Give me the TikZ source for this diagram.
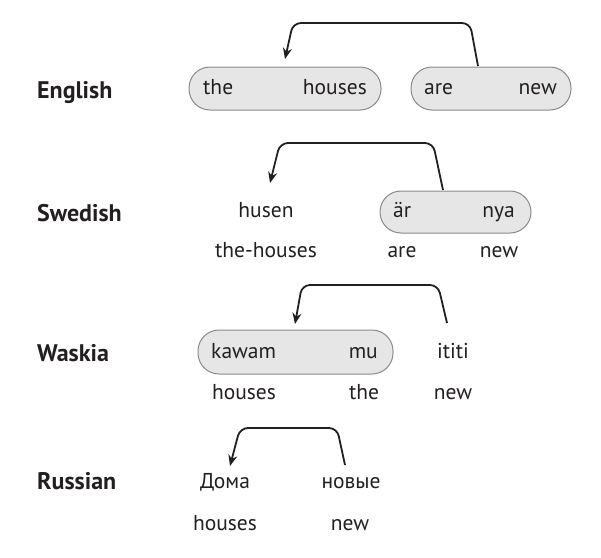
\documentclass[tikz,border=0pt]{standalone}
\usepackage{fontspec}
\setmainfont{PT Sans}
\usetikzlibrary{arrows.meta}
\definecolor{boxfill}{HTML}{E6E6E7}
\definecolor{boxline}{HTML}{8A8A8A}
\definecolor{ink}{HTML}{231F20}
\tikzset{
  wd/.style={inner sep=0pt, text=ink, anchor=base, font=\fontsize{21.5}{25}\selectfont},
  lang/.style={inner sep=0pt, text=ink, anchor=base west, font=\fontsize{24}{28}\selectfont\bfseries},
  pill/.style={draw=boxline, fill=boxfill, line width=1pt, rounded corners=21pt, inner sep=0pt},
  arr/.style={draw=ink, line width=1.8pt, rounded corners=8pt, -{Stealth[length=11pt,width=9pt]}},
}
\begin{document}
\begin{tikzpicture}[x=1pt,y=-1pt]
\useasboundingbox (0,0) rectangle (601,557);
% English
\node[lang] (len) at (37,98) {English};
\node[pill, minimum width=192pt, minimum height=43pt] (eb1) at (285,88.5) {};
\node[pill, minimum width=160pt, minimum height=43pt] (eb2) at (491,88.5) {};
\node[wd, anchor=base west] (ethe) at (203,94) {the};
\node[wd, anchor=base east] (ehouses) at (367,94) {houses};
\node[wd, anchor=base west] (eare) at (424,94) {are};
\node[wd, anchor=base east] (enew) at (557,94) {new};
\coordinate (es) at (478,66);
\coordinate (ee) at (285,59);
\draw[arr] (es) -- (470,23) -- (293,23) -- (ee);
% Swedish
\node[lang] (lsw) at (37,221) {Swedish};
\node[wd] (shusen) at (266,217) {husen};
\node[pill, minimum width=151pt, minimum height=42pt] (sb) at (455.5,212) {};
\node[wd, anchor=base west] (sar) at (393,217) {är};
\node[wd, anchor=base east] (snya) at (515,217) {nya};
\node[wd] (gth) at (266,257) {the-houses};
\node[wd] (gare) at (402,257) {are};
\node[wd] (gnew) at (499,257) {new};
\coordinate (ss) at (443,190);
\coordinate (se) at (270,183);
\draw[arr] (ss) -- (433,143) -- (280,143) -- (se);
% Waskia
\node[lang] (lwa) at (37,361) {Waskia};
\node[pill, minimum width=195pt, minimum height=44pt] (wb) at (295.5,352) {};
\node[wd, anchor=base west] (wkawam) at (211,358) {kawam};
\node[wd, anchor=base east] (wmu) at (378,358) {mu};
\node[wd] (wititi) at (453,358) {ititi};
\node[wd] (whouses) at (244,399) {houses};
\node[wd] (wthe) at (364,399) {the};
\node[wd] (wnew) at (453,399) {new};
\coordinate (ws) at (447,323);
\coordinate (we) at (295,324);
\draw[arr] (ws) -- (438,285) -- (302,285) -- (we);
% Russian
\node[lang] (lru) at (37,489) {Russian};
\node[wd] (rdoma) at (225,488) {Дома};
\node[wd] (rnovye) at (351,488) {новые};
\node[wd] (rhouses) at (225,530) {houses};
\node[wd] (rnew) at (350,530) {new};
\coordinate (rs) at (345,465);
\coordinate (re) at (230,466);
\draw[arr] (rs) -- (337,428) -- (240,428) -- (re);
\end{tikzpicture}
\end{document}
